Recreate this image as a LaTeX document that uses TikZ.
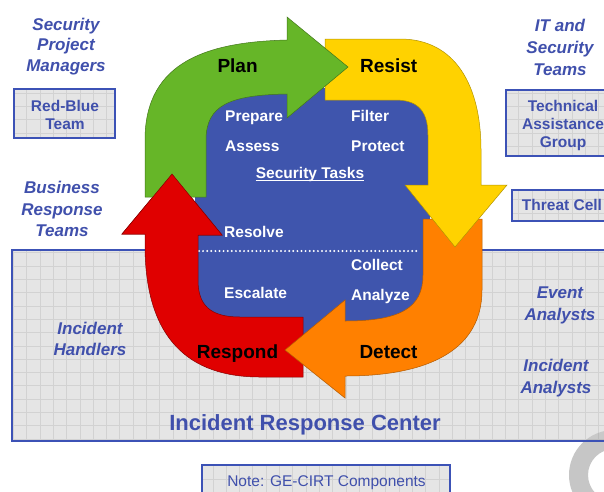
\documentclass[tikz,border=0pt]{standalone}
\usepackage{fontspec}
\setmainfont{Liberation Sans}
\definecolor{tblue}{RGB}{64,80,172}
\definecolor{bblue}{RGB}{60,82,182}
\definecolor{cblue}{RGB}{63,85,173}
\definecolor{cgreen}{RGB}{102,182,40}
\definecolor{cyellow}{RGB}{255,210,0}
\definecolor{corange}{RGB}{255,128,0}
\definecolor{cred}{RGB}{224,0,0}
\definecolor{boxfill}{RGB}{229,229,229}
\definecolor{gridc}{RGB}{210,210,210}
\definecolor{ringc}{RGB}{198,198,198}
\newcommand\mygridbox[4]{%
  \fill[boxfill] (#1,#2) rectangle (#3,#4);
  \begin{scope}\clip (#1,#2) rectangle (#3,#4);
  \draw[gridc, line width=0.5pt, step=13.3pt] (#1-14,#4+14) grid (#3+14,#2-14);
  \end{scope}}
\tikzset{
  lbl/.style={inner sep=0pt, font=\bfseries\itshape\fontsize{17}{20}\selectfont, text=tblue, anchor=base},
  boxtxt/.style={inner sep=0pt, font=\bfseries\fontsize{15.5}{18}\selectfont, text=tblue, anchor=base},
  task/.style={inner sep=0pt, font=\bfseries\fontsize{15.5}{18}\selectfont, text=white, anchor=base west},
  phase/.style={inner sep=0pt, font=\bfseries\fontsize{19}{22}\selectfont, text=black, anchor=base west},
  border/.style={draw=bblue, line width=2pt},
  garrow/.style={fill=cgreen, draw=cgreen!65!black, line width=0.5pt},
  yarrow/.style={fill=cyellow, draw=cyellow!70!black, line width=0.5pt},
  oarrow/.style={fill=corange, draw=corange!70!black, line width=0.5pt},
  rarrow/.style={fill=cred, draw=cred!60!black, line width=0.5pt},
}
\begin{document}
\begin{tikzpicture}[x=1pt,y=-1pt]
\clip (0,0) rectangle (604,491);
\fill[white] (0,0) rectangle (604,491);

% Incident Response Center panel
\mygridbox{12}{250}{615}{441}
% logo ring
\begin{scope}\clip (0,441) rectangle (604,491);
\fill[ringc, even odd rule] (614,475) circle (45pt) (614,475) circle (26pt);
\end{scope}
\begin{scope}[opacity=0.3]\clip (0,250) rectangle (604,441);
\fill[ringc!70!black, even odd rule] (614,475) circle (45pt) (614,475) circle (26pt);
\end{scope}
\draw[border] (12,250) rectangle (615,441);

% small boxes
\mygridbox{14}{89}{115}{138}
\draw[border] (14,89) rectangle (115,138);
\mygridbox{506}{90}{615}{156}
\draw[border] (506,90) rectangle (615,156);
\mygridbox{512}{190}{615}{221}
\draw[border] (512,190) rectangle (615,221);
\mygridbox{202}{465}{450}{500}
\draw[border] (202,465) rectangle (450,500);

% central blue region
\fill[cblue] (195,88) rectangle (430,340);
\draw[white, line width=2.2pt, line cap=round, dash pattern=on 0pt off 4.1pt] (199,251) -- (417,251);

% arrows
\filldraw[rarrow] (303,317) -- (303,377) -- (260,377) .. controls (190,377) and (145,340) .. (145,245) -- (145,234) -- (122,234) -- (172,174) -- (222,235) -- (198,235) -- (198,280) .. controls (198,305) and (210,317) .. (240,317) -- cycle;
\filldraw[oarrow] (423,219) -- (482,219) -- (482,290) .. controls (482,348) and (432,376) .. (345,376) -- (345,398) -- (285,350) -- (345,300) -- (345,321) .. controls (400,321) and (423,308) .. (423,275) -- cycle;
\filldraw[yarrow] (325,39) -- (400,39) .. controls (455,39) and (481,85) .. (481,150) -- (481,185) -- (507,185) -- (455,247) -- (405,185) -- (428,185) -- (428,135) .. controls (428,108) and (415,100) .. (395,100) -- (325,100) -- cycle;
\filldraw[garrow] (145,197) -- (145,140) .. controls (145,60) and (210,42) .. (287,40) -- (287,17) -- (348,67) -- (287,118) -- (287,94) .. controls (230,95) and (206,105) .. (206,140) -- (206,197) -- cycle;
\fill[cred] (122,234) -- (172,174) -- (222,235) -- cycle;
\draw[cred!60!black, line width=0.5pt] (145,234) -- (122,234) -- (172,174) -- (222,235) -- (198,235);

% phase labels
\node[phase] (plan) at (217.3,72.7) {Plan};
\node[phase] (resist) at (360,72.7) {Resist};
\node[phase] (respond) at (196.7,358.3) {Respond};
\node[phase] (detect) at (359.3,358.3) {Detect};

% tasks
\node[task] (prepare) at (225,121) {Prepare};
\node[task] (assess) at (225,151) {Assess};
\node[task] (filter) at (351,121) {Filter};
\node[task] (protect) at (351,151) {Protect};
\node[task, anchor=base] (st) at (310,178) {Security Tasks};
\draw[white, line width=1.2pt] ([yshift=-2.7pt]st.base west) -- ([yshift=-2.7pt]st.base east);
\node[task] (resolve) at (224,237) {Resolve};
\node[task] (escalate) at (224,298) {Escalate};
\node[task] (collect) at (351,270.7) {Collect};
\node[task] (analyze) at (351,300) {Analyze};

% side labels
\node[lbl] (spm1) at (66,30) {Security};
\node[lbl] (spm2) at (66,50) {Project};
\node[lbl] (spm3) at (66,71.7) {Managers};
\node[lbl] (brt1) at (62,193) {Business};
\node[lbl] (brt2) at (62,215) {Response};
\node[lbl] (brt3) at (62,236) {Teams};
\node[lbl] (its1) at (560,31.7) {IT and};
\node[lbl] (its2) at (560,53) {Security};
\node[lbl] (its3) at (560,75) {Teams};
\node[lbl] (ea1) at (560,298) {Event};
\node[lbl] (ea2) at (560,320) {Analysts};
\node[lbl] (ia1) at (556,371.7) {Incident};
\node[lbl] (ia2) at (556,393) {Analysts};
\node[lbl] (ih1) at (90,334) {Incident};
\node[lbl] (ih2) at (90,355) {Handlers};

% box texts
\node[boxtxt] (rb1) at (65,111) {Red-Blue};
\node[boxtxt] (rb2) at (65,129.3) {Team};
\node[boxtxt] (tag1) at (563,111) {Technical};
\node[boxtxt] (tag2) at (563,129) {Assistance};
\node[boxtxt] (tag3) at (563,147.7) {Group};
\node[boxtxt] (tc) at (562,210.7) {Threat Cell};
\node[inner sep=0pt, anchor=base, font=\bfseries\fontsize{22}{26}\selectfont, text=tblue] (irc) at (305,430) {Incident Response Center};
\node[inner sep=0pt, anchor=base, font=\fontsize{15.5}{18}\selectfont, text=tblue] (note) at (326.5,486) {Note: GE-CIRT Components};
\end{tikzpicture}
\end{document}
